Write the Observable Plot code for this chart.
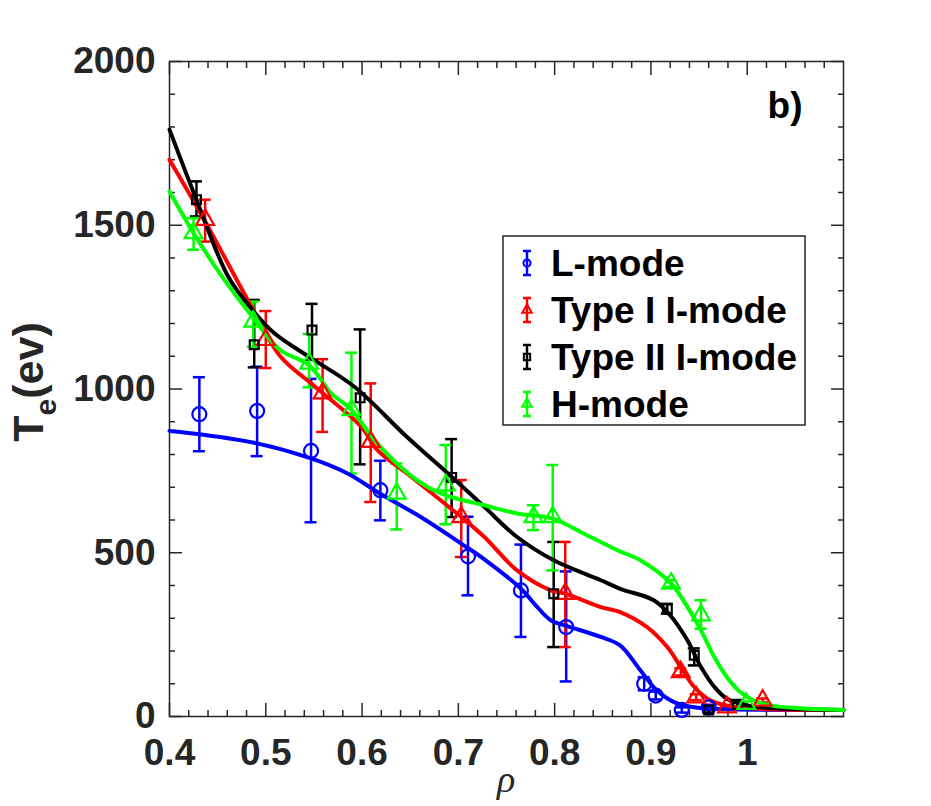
<!DOCTYPE html>
<html><head><meta charset="utf-8">
<script src="https://cdn.jsdelivr.net/npm/d3@7"></script>
<script src="https://cdn.jsdelivr.net/npm/@observablehq/plot@0.6"></script>
<style>
body{margin:0;background:#fff;}
#chart{position:relative;width:931px;height:806px;}
</style>
</head><body><div id="chart"></div>
<script>
// ---- tick values ----
const xTicks = [0.4, 0.5, 0.6, 0.7, 0.8, 0.9, 1.0];
const yTicks = [0, 500, 1000, 1500, 2000];

// ---- series meta ----
const seriesNames = ["L-mode", "Type I I-mode", "Type II I-mode", "H-mode"];
const seriesColors = ["#0000ff", "#ff0000", "#000000", "#00ff00"];
const seriesSymbols = ["circle", "triangle", "square", "triangle"];

// ---- measured points: rho, Te, lower, upper ----
const lX  = [0.431, 0.491, 0.547, 0.619, 0.710, 0.765, 0.812, 0.893, 0.905, 0.932, 0.960];
const lY  = [923, 933, 811, 691, 489, 385, 273, 100, 64, 20, 28];
const lLo = [810, 795, 593, 599, 370, 243, 107, 80, 52, 12, 20];
const lHi = [1036, 1068, 1031, 781, 610, 525, 443, 120, 76, 28, 36];

const t1X  = [0.437, 0.500, 0.559, 0.609, 0.703, 0.811, 0.931, 0.947, 0.979, 1.016];
const t1Y  = [1517, 1150, 987, 839, 609, 375, 136, 59, 28, 49];
const t1Lo = [1450, 1064, 869, 655, 487, 212, 125, 50, 22, 43];
const t1Hi = [1578, 1238, 1091, 1017, 722, 533, 147, 68, 34, 55];

const t2X  = [0.428, 0.488, 0.548, 0.598, 0.693, 0.799, 0.917, 0.945, 0.960, 0.990];
const t2Y  = [1578, 1135, 1180, 973, 730, 375, 329, 187, 20, 37];
const t2Lo = [1527, 1066, 1089, 770, 609, 212, 314, 156, 12, 30];
const t2Hi = [1634, 1272, 1260, 1182, 847, 533, 344, 208, 28, 44];

const hX  = [0.425, 0.487, 0.545, 0.589, 0.636, 0.687, 0.778, 0.798, 0.921, 0.952, 0.999];
const hY  = [1476, 1206, 1078, 936, 681, 706, 609, 609, 406, 309, 39];
const hLo = [1425, 1129, 1005, 742, 571, 587, 569, 446, 396, 268, 32];
const hHi = [1522, 1267, 1168, 1111, 773, 829, 645, 768, 416, 355, 46];

// ---- fitted curves ----
const lCurveX = [0.40, 0.431, 0.491, 0.547, 0.585, 0.619, 0.661, 0.703, 0.727, 0.765, 0.782, 0.796, 0.813, 0.848, 0.868, 0.889, 0.906, 0.924, 0.945, 0.972, 1.10];
const lCurveY = [872, 862, 834, 788, 742, 680, 609, 528, 480, 390, 334, 294, 276, 243, 217, 141, 80, 44, 28, 23, 20];

const t1CurveX = [0.40, 0.436, 0.485, 0.515, 0.55, 0.599, 0.616, 0.651, 0.703, 0.727, 0.761, 0.796, 0.811, 0.848, 0.868, 0.896, 0.917, 0.931, 0.945, 0.962, 0.983, 1.014, 1.10];
const t1CurveY = [1700, 1517, 1252, 1100, 1010, 885, 813, 732, 609, 548, 446, 385, 375, 334, 319, 273, 212, 151, 90, 49, 31, 23, 20];

const t2CurveX = [0.40, 0.428, 0.461, 0.486, 0.509, 0.545, 0.592, 0.645, 0.693, 0.727, 0.761, 0.799, 0.848, 0.868, 0.903, 0.920, 0.938, 0.952, 0.966, 0.979, 1.000, 1.028, 1.10];
const t2CurveY = [1792, 1578, 1343, 1242, 1170, 1098, 1007, 858, 732, 640, 548, 477, 416, 390, 355, 309, 232, 151, 90, 54, 34, 25, 20];

const hCurveX = [0.40, 0.425, 0.457, 0.486, 0.515, 0.545, 0.567, 0.589, 0.613, 0.640, 0.668, 0.692, 0.727, 0.761, 0.798, 0.830, 0.865, 0.889, 0.921, 0.938, 0.952, 0.966, 0.979, 0.993, 1.007, 1.024, 1.055, 1.10];
const hCurveY = [1603, 1476, 1333, 1221, 1119, 1073, 990, 936, 844, 762, 701, 671, 645, 620, 604, 559, 508, 477, 406, 334, 263, 181, 120, 74, 49, 34, 25, 20];

// ---- build tables ----
const pointSets = [[lX, lY, lLo, lHi], [t1X, t1Y, t1Lo, t1Hi], [t2X, t2Y, t2Lo, t2Hi], [hX, hY, hLo, hHi]];
const curveSets = [[lCurveX, lCurveY], [t1CurveX, t1CurveY], [t2CurveX, t2CurveY], [hCurveX, hCurveY]];

const points = pointSets.flatMap(([xs, ys, lo, hi], s) =>
  xs.map((x, i) => ({series: seriesNames[s], x, y: ys[i], lo: lo[i], hi: hi[i]})));
const curves = curveSets.flatMap(([xs, ys], s) =>
  xs.map((x, i) => ({series: seriesNames[s], x, y: ys[i]})));

const xMinor = d3.range(20, 56).filter(i => i % 5 !== 0).map(i => i / 50);
const yMinor = d3.range(0, 21).filter(i => i % 5 !== 0).map(i => i * 100);

const axisColor = "#262626";
const font = "'Liberation Sans', Arial, Helvetica, sans-serif";

const marks = [];
marks.push(Plot.frame({stroke: axisColor, strokeWidth: 1.5}));
for (const anchor of ["bottom", "top"]) {
  marks.push(Plot.axisX({anchor, ticks: xTicks, tickSize: -13, fill: "none", stroke: axisColor, strokeWidth: 1.5, label: null}));
  marks.push(Plot.axisX({anchor, ticks: xMinor, tickSize: -6, fill: "none", stroke: axisColor, strokeWidth: 1.5, label: null}));
}
for (const anchor of ["left", "right"]) {
  marks.push(Plot.axisY({anchor, ticks: yTicks, tickSize: -13, fill: "none", stroke: axisColor, strokeWidth: 1.5, label: null}));
  marks.push(Plot.axisY({anchor, ticks: yMinor, tickSize: -6, fill: "none", stroke: axisColor, strokeWidth: 1.5, label: null}));
}
marks.push(Plot.axisX({anchor: "bottom", ticks: xTicks, tickSize: 0, tickPadding: 22, tickFormat: d => String(+d.toFixed(1)),
  fill: axisColor, fontSize: 37, fontWeight: "bold", fontFamily: font, label: null}));
marks.push(Plot.axisY({anchor: "left", ticks: yTicks, tickSize: 0, tickPadding: 14, tickFormat: d => String(d),
  fill: axisColor, fontSize: 37, fontWeight: "bold", fontFamily: font, label: null}));

// error bars and caps
for (let s = 0; s < 4; s++) {
  const data = points.filter(d => d.series === seriesNames[s]);
  const c = seriesColors[s];
  marks.push(Plot.ruleX(data, {x: "x", y1: "lo", y2: "hi", stroke: c, strokeWidth: 2.5}));
  marks.push(Plot.ruleY(data, {y: "lo", x1: "x", x2: "x", insetLeft: -6, insetRight: -6, stroke: c, strokeWidth: 2.5}));
  marks.push(Plot.ruleY(data, {y: "hi", x1: "x", x2: "x", insetLeft: -6, insetRight: -6, stroke: c, strokeWidth: 2.5}));
}
// curves
for (let s = 0; s < 4; s++) {
  marks.push(Plot.line(curves.filter(d => d.series === seriesNames[s]),
    {x: "x", y: "y", stroke: seriesColors[s], strokeWidth: 4, curve: "catmull-rom"}));
}
// markers
const symR = {circle: 7, triangle: 6.6, square: 5};
for (let s = 0; s < 4; s++) {
  marks.push(Plot.dot(points.filter(d => d.series === seriesNames[s]),
    {x: "x", y: "y", symbol: seriesSymbols[s], r: symR[seriesSymbols[s]], fill: "none", stroke: seriesColors[s], strokeWidth: 2.2}));
}
marks.push(Plot.text(["b)"], {frameAnchor: "top-right", dx: -41, dy: 30, text: d => d, fontSize: 37, fontWeight: "bold",
  fontFamily: font, fill: "#000", textAnchor: "end", lineAnchor: "top"}));

const chart = Plot.plot({
  width: 931, height: 806,
  marginLeft: 169, marginRight: 88, marginTop: 61, marginBottom: 90,
  x: {domain: [0.4, 1.1], label: null},
  y: {domain: [0, 2000], label: null},
  symbol: {domain: ["circle", "triangle", "square"], range: ["circle", "triangle", "square"]},
  style: {background: "#fff", overflow: "visible"},
  marks
});
document.getElementById("chart").appendChild(chart);

const svg = d3.select(chart);
const yl = svg.append("text")
  .attr("transform", "translate(43,382) rotate(-90)")
  .attr("text-anchor", "middle")
  .attr("font-family", font).attr("font-weight", "bold").attr("font-size", 43).attr("fill", axisColor);
yl.append("tspan").text("T");
yl.append("tspan").attr("font-size", 30).attr("dy", 13).text("e");
yl.append("tspan").attr("dy", -13).text("(ev)");
svg.append("text").attr("x", 506).attr("y", 792).attr("text-anchor", "middle")
  .attr("font-family", "'Liberation Serif', 'Times New Roman', serif").attr("font-style", "italic")
  .attr("font-size", 38).attr("fill", axisColor).text("ρ");

// legend
const lg = svg.append("g");
lg.append("rect").attr("x", 503).attr("y", 236).attr("width", 302).attr("height", 189)
  .attr("fill", "#fff").attr("stroke", axisColor).attr("stroke-width", 1.5);
const symMap = {circle: d3.symbolCircle, triangle: d3.symbolTriangle, square: d3.symbolSquare};
seriesNames.forEach((name, i) => {
  const cy = 263 + i * 47, cx = 527, c = seriesColors[i];
  const g = lg.append("g");
  g.append("line").attr("x1", cx).attr("x2", cx).attr("y1", cy - 12).attr("y2", cy + 12).attr("stroke", c).attr("stroke-width", 2.5);
  g.append("line").attr("x1", cx - 4).attr("x2", cx + 4).attr("y1", cy - 12).attr("y2", cy - 12).attr("stroke", c).attr("stroke-width", 2.5);
  g.append("line").attr("x1", cx - 4).attr("x2", cx + 4).attr("y1", cy + 12).attr("y2", cy + 12).attr("stroke", c).attr("stroke-width", 2.5);
  g.append("path").attr("transform", `translate(${cx},${cy})`)
    .attr("d", d3.symbol(symMap[seriesSymbols[i]], 40)()).attr("fill", "none").attr("stroke", c).attr("stroke-width", 2);
  g.append("text").attr("x", 551).attr("y", cy + 13).attr("text-anchor", "start")
    .attr("font-family", font).attr("font-weight", "bold")
    .attr("font-size", 37).attr("fill", "#000").text(name);
});
</script>
</body></html>
